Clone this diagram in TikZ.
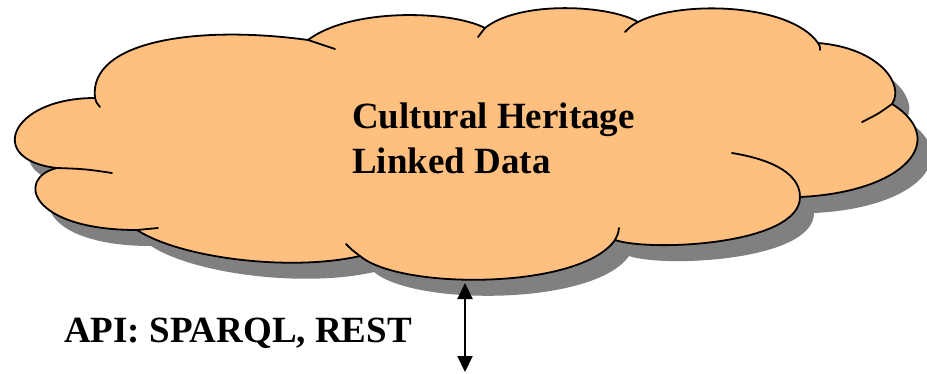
\documentclass[tikz,border=0pt]{standalone}
\usepackage{fontspec}
\setmainfont{Liberation Serif}
\usepackage{xcolor}
\usepackage{tikz}
\usetikzlibrary{positioning,calc,arrows.meta}

\definecolor{cloudfill}{RGB}{255,191,127}
\definecolor{cloudshadow}{RGB}{128,128,128}

\tikzset{
  cloudline/.style={line width=1.8pt, line join=round, line cap=round},
  bigtext/.style={font=\fontsize{37}{45}\selectfont\bfseries, inner sep=0pt},
  apiarrow/.style={line width=2pt, {Triangle[length=16pt,width=15pt]}-{Triangle[length=16pt,width=15pt]}}
}

% outline of the cloud, lobe by lobe
\newcommand{\cloudpath}{%
  (95,98) .. controls (88,40) and (200,25) .. (308,40)
  .. controls (350,8) and (450,10) .. (485,28)
  .. controls (520,0) and (610,5) .. (638,22)
  .. controls (680,0) and (790,3) .. (818,43)
  .. controls (880,48) and (905,85) .. (892,104)
  .. controls (950,140) and (905,192) .. (800,197)
  .. controls (800,245) and (650,252) .. (615,240)
  .. controls (580,290) and (400,290) .. (360,256)
  .. controls (290,272) and (180,258) .. (137,230)
  .. controls (30,230) and (15,178) .. (57,168)
  .. controls (-15,160) and (10,98) .. (95,98) -- cycle}

\begin{document}
\begin{tikzpicture}[x=1pt, y=-1pt]
    \useasboundingbox (0,0) rectangle (927,373);

    % shadow and body
    \fill[cloudshadow, shift={(14,16)}] \cloudpath;
    \filldraw[cloudline, fill=cloudfill] \cloudpath;

    % inner strokes where the lobes meet
    \draw[cloudline] (95,98) .. controls (96,102) .. (100,107);
    \draw[cloudline] (308,40) .. controls (322,44) .. (335,49);
    \draw[cloudline] (485,28) .. controls (481,32) .. (478,37);
    \draw[cloudline] (638,22) .. controls (631,26) .. (625,32);
    \draw[cloudline] (818,43) .. controls (820,46) .. (820,50);
    \draw[cloudline] (892,104) .. controls (878,114) .. (862,122);
    \draw[cloudline] (800,197) .. controls (800,175) and (775,160) .. (732,153);
    \draw[cloudline] (615,240) .. controls (618,234) .. (619,228);
    \draw[cloudline] (360,256) .. controls (352,250) .. (346,244);
    \draw[cloudline] (137,230) .. controls (147,229) .. (158,228);
    \draw[cloudline] (57,168) .. controls (85,169) .. (112,173);

    \node[bigtext, align=left, anchor=north west] (chld) at (352,103) {Cultural Heritage\\Linked Data};
    \node[bigtext, anchor=base west] (api) at (64,342) {API: SPARQL, REST};

    \coordinate (cloudbot) at (465,283);
    \coordinate (apiend) at (465,372);
    \draw[apiarrow] (cloudbot) -- (apiend);
\end{tikzpicture}
\end{document}
